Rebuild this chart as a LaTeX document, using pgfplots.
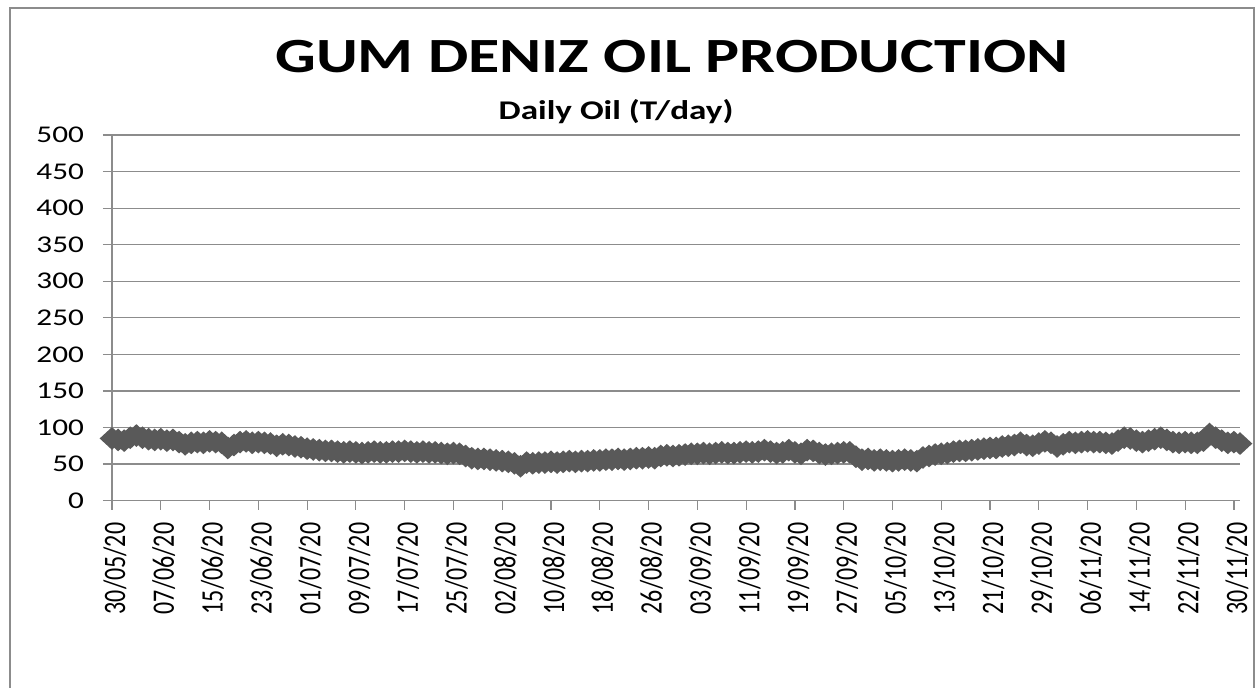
\documentclass[border=0pt]{standalone}
\usepackage{fontspec}
\setmainfont{Carlito}
\usepackage{graphicx}
\usepackage{pgfplots}
\usepackage{pgfplotstable}
\pgfplotsset{compat=1.18}

\definecolor{series}{HTML}{595959}
\definecolor{gridc}{HTML}{8C8C8C}

% text in the reference is stretched sideways
\newcommand\yl[1]{\scalebox{1.3}[1]{#1}}
\newcommand\xl[1]{\scalebox{1}[1.3]{#1}}

% day 0 = 30/05/20
\pgfplotstableread{
day oil
0 85
1 83
2 82
3 86
4 89
5 86
6 84
7 83
8 84
9 82
10 83
11 80
12 77
13 79
14 80
15 79
16 81
17 80
18 79
19 72
20 76
21 80
22 81
23 79
24 80
25 79
26 78
27 75
28 77
29 76
30 74
31 73
32 71
33 70
34 69
35 68
36 68
37 67
38 66
39 67
40 66
41 65
42 66
43 67
44 66
45 66
46 67
47 67
48 68
49 67
50 66
51 67
52 66
53 66
54 65
55 64
56 65
57 64
58 61
59 58
60 57
61 57
62 56
63 55
64 54
65 53
66 51
67 47
68 52
69 51
70 52
71 52
72 53
73 52
74 53
75 54
76 53
77 54
78 54
79 55
80 55
81 56
82 56
83 57
84 56
85 57
86 58
87 58
88 59
89 58
90 61
91 62
92 61
93 62
94 63
95 64
96 64
97 65
98 64
99 65
100 66
101 65
102 65
103 66
104 67
105 66
106 67
107 69
108 67
109 65
110 66
111 69
112 66
113 64
114 69
115 68
116 65
117 63
118 64
119 65
120 66
121 66
122 60
123 56
124 57
125 55
126 56
127 55
128 54
129 55
130 56
131 55
132 54
133 59
134 61
135 63
136 64
137 65
138 67
139 68
140 68
141 69
142 70
143 71
144 72
145 72
146 74
147 75
148 76
149 79
150 76
151 75
152 78
153 81
154 79
155 74
156 77
157 80
158 79
159 80
160 81
161 80
162 80
163 79
164 78
165 82
166 86
167 85
168 82
169 80
170 82
171 84
172 86
173 83
174 80
175 79
176 80
177 79
178 79
179 82
180 91
181 86
182 82
183 79
184 80
185 78
}\oiltable

\begin{document}
\begin{tikzpicture}
\useasboundingbox (-56pt,-93.2pt) rectangle (572.5pt,250.3pt);
\draw[gridc, line width=1pt] (-51pt,-94pt) -- (-51pt,246.3pt) -- (571pt,246.3pt) -- (571pt,-94pt);
\begin{axis}[
    at={(0,0)}, anchor=south west,
    scale only axis,
    width=564pt, height=182.8pt,
    xmin=0, xmax=185,
    ymin=0, ymax=500,
    axis lines*=left,
    axis line style={gridc, line width=0.6pt},
    tick style={gridc, line width=0.6pt},
    tick align=outside,
    major tick length=4.5pt,
    ymajorgrids=true,
    grid style={gridc, line width=0.6pt},
    ytick={0,50,...,500},
    yticklabels={\yl{0},\yl{50},\yl{100},\yl{150},\yl{200},\yl{250},\yl{300},\yl{350},\yl{400},\yl{450},\yl{500}},
    yticklabel style={font=\fontsize{12}{14}\selectfont, anchor=east, xshift=-6pt},
    xtick={0,8,...,184},
    xticklabels={\xl{30/05/20},\xl{07/06/20},\xl{15/06/20},\xl{23/06/20},\xl{01/07/20},\xl{09/07/20},\xl{17/07/20},\xl{25/07/20},\xl{02/08/20},\xl{10/08/20},\xl{18/08/20},\xl{26/08/20},\xl{03/09/20},\xl{11/09/20},\xl{19/09/20},\xl{27/09/20},\xl{05/10/20},\xl{13/10/20},\xl{21/10/20},\xl{29/10/20},\xl{06/11/20},\xl{14/11/20},\xl{22/11/20},\xl{30/11/20}},
    xticklabel style={font=\fontsize{12}{14}\selectfont, rotate=90, anchor=east, xshift=-3pt, yshift=-1.5pt},
]
\addplot[series, line width=1pt, mark=diamond*, mark size=5pt,
    mark options={xscale=1.45, fill=series, draw=series}] table[x=day, y=oil] {\oiltable};
\end{axis}
\node[anchor=base, font=\fontsize{24.6}{28}\selectfont\bfseries] at (280pt,214.3pt) {\yl{GUM DENIZ OIL PRODUCTION}};
\node[anchor=base, font=\fontsize{13.5}{16}\selectfont\bfseries] at (252pt,190.8pt) {\yl{Daily Oil (T/day)}};
\end{tikzpicture}
\end{document}
